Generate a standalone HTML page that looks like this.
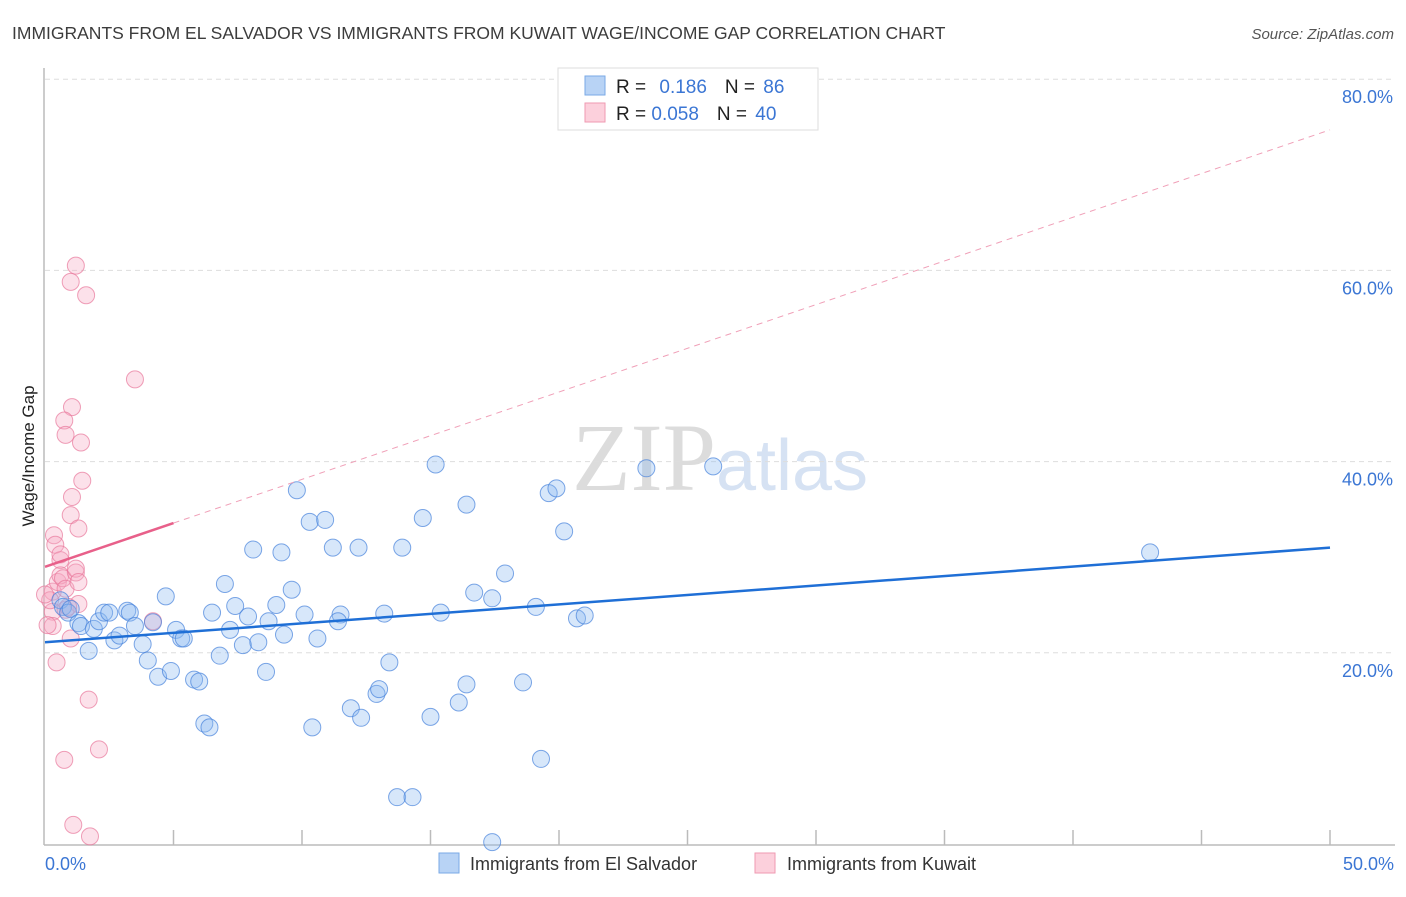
<!DOCTYPE html>
<html><head><meta charset="utf-8"><style>
body{margin:0;background:#fff;font-family:"Liberation Sans",sans-serif;}
svg text{font-family:"Liberation Sans",sans-serif;}
</style></head><body>
<svg id="chart" width="1406" height="892">
<text x="12" y="39" font-size="17.5" fill="#3c3c3c">IMMIGRANTS FROM EL SALVADOR VS IMMIGRANTS FROM KUWAIT WAGE/INCOME GAP CORRELATION CHART</text>
<text x="1394" y="39" font-size="15" fill="#555" font-style="italic" text-anchor="end">Source: ZipAtlas.com</text>
<text x="720" y="490" font-size="96" fill="#e6e6e6" text-anchor="middle" font-family="Liberation Serif"><tspan font-family="Liberation Serif" fill="#dcdcdc">ZIP</tspan><tspan font-family="Liberation Sans" fill="#d6e2f3" font-size="72">atlas</tspan></text>
<g id="grid"></g>
<line x1="44" y1="68" x2="44" y2="845" stroke="#bbb" stroke-width="1.5"/>
<line x1="44" y1="845" x2="1395" y2="845" stroke="#bbb" stroke-width="1.5"/>
<text transform="translate(34,456) rotate(-90)" font-size="17" fill="#222" text-anchor="middle">Wage/Income Gap</text>
<text x="45" y="870" font-size="18" fill="#3b76d4">0.0%</text>
<text x="1394" y="870" font-size="18" fill="#3b76d4" text-anchor="end">50.0%</text>
<g id="marks"></g>
<g>
<rect x="558" y="68" width="260" height="62" fill="#fff" stroke="#ddd"/>
<rect x="585" y="76" width="20" height="19" fill="#b8d3f5" stroke="#7aaae6"/>
<rect x="585" y="103" width="20" height="19" fill="#fcd0dc" stroke="#ef9ab2"/>
<text x="616" y="93" font-size="19" fill="#222">R = <tspan fill="#3b76d4" dx="8">0.186</tspan><tspan fill="#222" dx="18">N = </tspan><tspan fill="#3b76d4" dx="3">86</tspan></text>
<text x="616" y="120" font-size="19" fill="#222">R = <tspan fill="#3b76d4">0.058</tspan><tspan fill="#222" dx="18">N = </tspan><tspan fill="#3b76d4" dx="3">40</tspan></text>
</g>
<g>
<rect x="439" y="853" width="20" height="20" fill="#b8d3f5" stroke="#7aaae6"/>
<text x="470" y="870" font-size="18" fill="#333">Immigrants from El Salvador</text>
<rect x="755" y="853" width="20" height="20" fill="#fcd0dc" stroke="#ef9ab2"/>
<text x="787" y="870" font-size="18" fill="#333">Immigrants from Kuwait</text>
</g>
</svg>
<script>
const yTicks=[20,40,60,80];
const xTicks=[5,10,15,20,25,30,35,40,45,50];
const blueX=[0.6,0.7,0.9,1.0,1.3,1.4,1.7,1.9,2.1,2.3,2.5,2.7,2.9,3.2,3.3,3.5,3.8,4.0,4.2,4.4,4.7,4.9,5.1,5.3,5.4,5.8,6.0,6.2,6.4,6.5,6.8,7.0,7.2,7.4,7.7,7.9,8.1,8.3,8.6,8.7,9.0,9.2,9.3,9.6,9.8,10.1,10.3,10.4,10.6,10.9,11.2,11.5,11.4,11.9,12.2,12.3,12.9,13.0,13.2,13.4,13.7,13.9,14.3,14.7,15.0,15.2,15.4,16.1,16.4,16.4,16.7,17.4,17.4,17.9,18.6,19.1,19.3,19.6,19.9,20.2,20.7,21.0,23.4,26.0,43.0];
const blueY=[25.5,24.8,24.2,24.6,23.1,22.8,20.2,22.5,23.3,24.2,24.2,21.3,21.8,24.4,24.2,22.8,20.9,19.2,23.2,17.5,25.9,18.1,22.4,21.5,21.5,17.2,17.0,12.6,12.2,24.2,19.7,27.2,22.4,24.9,20.8,23.8,30.8,21.1,18.0,23.3,25.0,30.5,21.9,26.6,37.0,24.0,33.7,12.2,21.5,33.9,31.0,24.0,23.3,14.2,31.0,13.2,15.7,16.2,24.1,19.0,4.9,31.0,4.9,34.1,13.3,39.7,24.2,14.8,35.5,16.7,26.3,0.2,25.7,28.3,16.9,24.8,8.9,36.7,37.2,32.7,23.6,23.9,39.3,39.5,30.5];
const pinkX=[0.3,0.3,0.3,0.35,0.4,0.45,0.5,0.6,0.6,0.7,0.8,0.8,1.0,1.0,1.05,1.05,0.75,0.8,1.0,1.2,1.1,1.2,1.2,1.3,1.3,1.3,1.4,1.45,1.6,1.7,0.75,1.75,2.1,3.5,4.2,0.1,0.2,0.9,0.6,0.0];
const pinkY=[26.4,24.3,22.8,32.3,31.3,19.0,27.4,29.7,28.1,27.8,26.7,24.5,21.5,34.4,36.3,45.7,44.3,42.8,58.8,60.5,2.0,28.4,28.8,33.0,27.4,25.1,42.0,38.0,57.4,15.1,8.8,0.8,9.9,48.6,23.3,22.9,25.5,24.8,30.3,26.1];
const blueTrend=[21.1,31.0];
const pinkTrend=[29.0,74.7];
const X0=45,X1=1330,Y0=844,PY=9.56;
const sx=v=>X0+(X1-X0)*v/50;
const sy=v=>Y0-v*PY;
const NS="http://www.w3.org/2000/svg";
const grid=document.getElementById('grid');
const marks=document.getElementById('marks');
function mk(tag,attrs,parent){const e=document.createElementNS(NS,tag);for(const k in attrs)e.setAttribute(k,attrs[k]);parent.appendChild(e);return e;}
yTicks.forEach(t=>{
 const l=mk('line',{x1:45,x2:1395,y1:sy(t),y2:sy(t),stroke:'#ddd','stroke-dasharray':'5,4'},grid);
 
 
 const tx=mk('text',{x:1393,y:sy(t)+24,'font-size':18,fill:'#3b76d4','text-anchor':'end'},grid);
 tx.textContent=t.toFixed(1)+'%';
 
 
});
xTicks.forEach(t=>{
 const l=mk('line',{x1:sx(t),x2:sx(t),y1:830,y2:845,stroke:'#bbb','stroke-width':1.5},grid);
 
 
});
pinkX.forEach((x,i)=>{
 const c=mk('circle',{cx:sx(x),cy:sy(pinkY[i]),r:8.5,fill:'rgba(247,170,195,0.35)',stroke:'rgba(232,120,155,0.7)','stroke-width':1},marks);
 
 
});
blueX.forEach((x,i)=>{
 const c=mk('circle',{cx:sx(x),cy:sy(blueY[i]),r:8.5,fill:'rgba(140,185,240,0.35)',stroke:'rgba(70,130,220,0.7)','stroke-width':1},marks);
 
 
});
const bt=mk('line',{x1:sx(0),y1:sy(blueTrend[0]),x2:sx(50),y2:sy(blueTrend[1]),stroke:'#1f6fd6','stroke-width':2.5},marks);


const pv=x=>pinkTrend[0]+(pinkTrend[1]-pinkTrend[0])*x/50;
const pd=mk('line',{x1:sx(5),y1:sy(pv(5)),x2:sx(50),y2:sy(pv(50)),stroke:'#f0a0b8','stroke-width':1,'stroke-dasharray':'6,5'},marks);


const ps=mk('line',{x1:sx(0),y1:sy(pv(0)),x2:sx(5),y2:sy(pv(5)),stroke:'#e8608a','stroke-width':2.5},marks);


</script>
</body></html>
